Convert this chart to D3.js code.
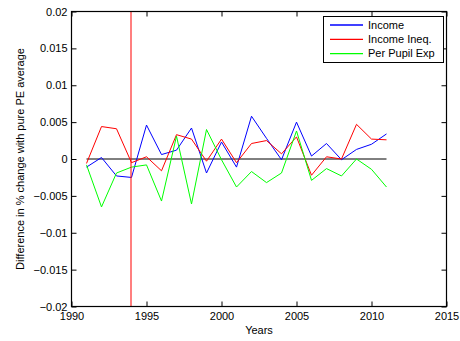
<!DOCTYPE html>
<html>
<head>
<meta charset="utf-8">
<script src="https://cdn.jsdelivr.net/npm/d3@7/dist/d3.min.js"></script>
<style>
  html, body { margin: 0; padding: 0; background: #fff; }
  svg { display: block; }
  text { font-family: "Liberation Sans", Arial, Helvetica, sans-serif; fill: #000; }
</style>
</head>
<body>
<svg id="chart" width="460" height="341"></svg>
<script>
const years = [1991,1992,1993,1994,1995,1996,1997,1998,1999,2000,2001,2002,2003,2004,2005,2006,2007,2008,2009,2010,2011];
const income     = [-0.0011, 0.0002,-0.0023,-0.0025, 0.0046, 0.0006, 0.0012, 0.0042,-0.0019, 0.0023,-0.0011, 0.0058, 0.0028,-0.0001, 0.0050, 0.0004, 0.0021,-0.0001, 0.0013, 0.0020, 0.0034];
const incomeIneq = [-0.0006, 0.0044, 0.0041,-0.0005, 0.0003,-0.0016, 0.0033, 0.0027,-0.0003, 0.0027,-0.0005, 0.0021, 0.0025, 0.0007, 0.0030,-0.0022, 0.0003, 0.0000, 0.0047, 0.0027, 0.0026];
const perPupil   = [-0.0008,-0.0065,-0.0019,-0.0011,-0.0008,-0.0057, 0.0031,-0.0061, 0.0040,-0.0001,-0.0038,-0.0017,-0.0032,-0.0019, 0.0038,-0.0029,-0.0013,-0.0023, 0.0000,-0.0014,-0.0038];
const seriesNames = ["Income", "Income Ineq.", "Per Pupil Exp"];
const seriesColors = ["#0000ff", "#ff0000", "#00ff00"];
const xTicks = [1990,1995,2000,2005,2010,2015];
const yTicks = [-0.02,-0.015,-0.01,-0.005,0,0.005,0.01,0.015,0.02];
const yTickLabels = ["\u22120.02","\u22120.015","\u22120.01","\u22120.005","0","0.005","0.01","0.015","0.02"];
const markerYear = 1994;
const xLabel = "Years";
const yLabel = "Difference in % change with pure PE average";

const svg = d3.select("#chart");
const L = 71.5, R = 446.5, T = 11.5, B = 306.5;
const x = d3.scaleLinear().domain([1990, 2015]).range([L, R]);
const y = d3.scaleLinear().domain([-0.02, 0.02]).range([B, T]);
const fs = 11;

// zero line
svg.append("line")
  .attr("x1", x(years[0])).attr("x2", x(years[years.length-1]))
  .attr("y1", y(0)).attr("y2", y(0))
  .style("stroke", "#000").style("stroke-width", 1);

// series
const lineGen = d3.line().x((d,i) => x(years[i])).y(d => y(d));
[income, incomeIneq, perPupil].forEach((s, k) => {
  svg.append("path").datum(s)
    .attr("d", lineGen)
    .style("fill", "none")
    .style("stroke", seriesColors[k])
    .style("stroke-width", 1);
});

// vertical marker
svg.append("line")
  .attr("x1", x(markerYear) - 0.5).attr("x2", x(markerYear) - 0.5)
  .attr("y1", T).attr("y2", B)
  .style("stroke", "#ff0000").style("stroke-opacity", 0.5).style("stroke-width", 2);

// axes with inward ticks
const tl = 5;
const xb = svg.append("g").attr("transform", `translate(0,${B})`)
  .call(d3.axisBottom(x).tickValues(xTicks).tickFormat(d3.format("d")).tickSizeInner(-tl).tickSizeOuter(0).tickPadding(5));
const xt = svg.append("g").attr("transform", `translate(0,${T})`)
  .call(d3.axisTop(x).tickValues(xTicks).tickFormat("").tickSizeInner(-tl).tickSizeOuter(0));
const yl = svg.append("g").attr("transform", `translate(${L},0)`)
  .call(d3.axisLeft(y).tickValues(yTicks).tickFormat((d,i) => yTickLabels[i]).tickSizeInner(-tl).tickSizeOuter(0).tickPadding(4));
const yr = svg.append("g").attr("transform", `translate(${R},0)`)
  .call(d3.axisRight(y).tickValues(yTicks).tickFormat("").tickSizeInner(-tl).tickSizeOuter(0));
[xb, xt, yl, yr].forEach(g => {
  g.selectAll(".domain").remove();
  g.selectAll(".tick line").style("stroke", "#000").style("stroke-width", 1);
  g.selectAll("text").attr("font-size", fs).attr("font-family", "Liberation Sans, Arial, sans-serif");
});
xb.selectAll("text").attr("dy", "0.71em").attr("y", 6);

// box
svg.append("rect").attr("x", L).attr("y", T).attr("width", R - L).attr("height", B - T)
  .style("fill", "none").style("stroke", "#000").style("stroke-width", 1.2);

// axis labels
svg.append("text").attr("x", (L + R) / 2).attr("y", 334).attr("text-anchor", "middle")
  .attr("font-size", fs).text(xLabel);
svg.append("text").attr("transform", `translate(24,${(T + B) / 2}) rotate(-90)`)
  .attr("text-anchor", "middle").attr("font-size", fs).text(yLabel);

// legend
const lg = svg.append("g");
lg.append("rect").attr("x", 323.5).attr("y", 16.5).attr("width", 120).attr("height", 46)
  .style("fill", "#fff").style("stroke", "#000").style("stroke-width", 1);
seriesNames.forEach((n, i) => {
  const yy = 25 + i * 14.3;
  lg.append("line").attr("x1", 330).attr("x2", 363).attr("y1", yy).attr("y2", yy)
    .style("stroke", seriesColors[i]).style("stroke-width", 1.3);
  lg.append("text").attr("x", 368).attr("y", yy).attr("dy", "0.35em")
    .attr("font-size", fs).text(n);
});
</script>
</body>
</html>
